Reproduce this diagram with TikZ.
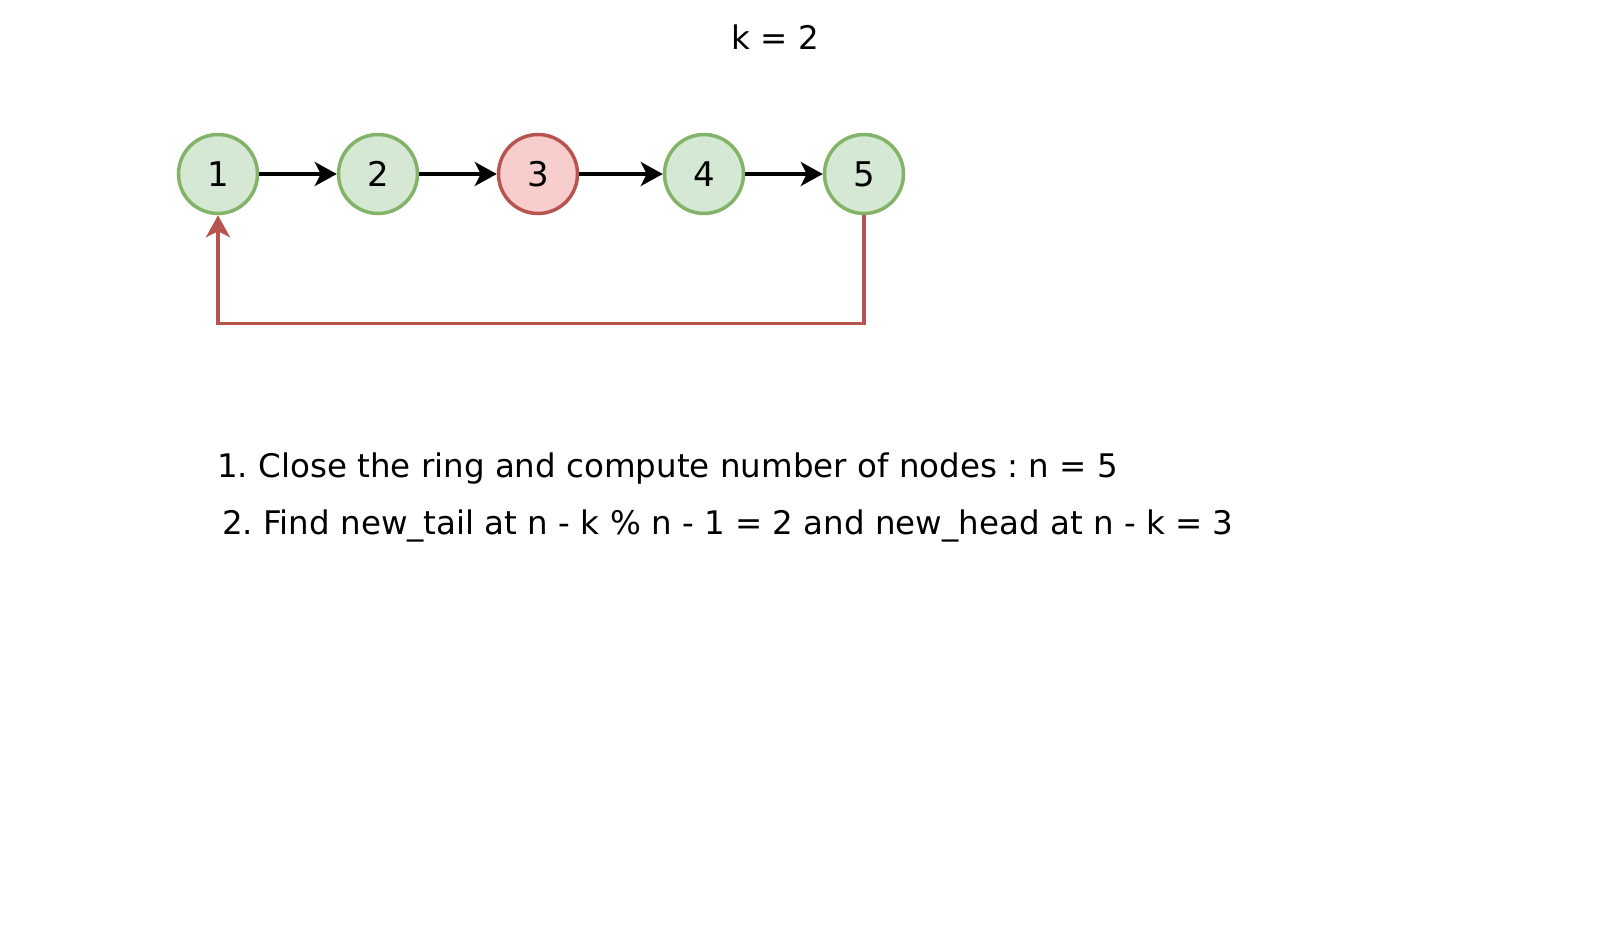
\documentclass[tikz,border=0pt]{standalone}
\usepackage{fontspec}
\setmainfont{DejaVu Sans}
\usetikzlibrary{arrows.meta}
\definecolor{gfill}{HTML}{D5E8D4}
\definecolor{gline}{HTML}{82B366}
\definecolor{rfill}{HTML}{F8CECC}
\definecolor{rline}{HTML}{B85450}
\tikzset{
  lnode/.style={circle, line width=3.5pt, minimum size=79pt, inner sep=0pt, font=\fontsize{34}{40}\selectfont},
  gnode/.style={lnode, draw=gline, fill=gfill},
  rnode/.style={lnode, draw=rline, fill=rfill},
  link/.style={line width=3.5pt, -{Stealth[length=22pt,width=24pt,inset=6pt]}},
  backlink/.style={link, draw=rline},
  txt/.style={font=\fontsize{32.5}{38}\selectfont, inner sep=0pt}
}
\begin{document}
\frenchspacing
\begin{tikzpicture}[x=1pt,y=-1pt]
\useasboundingbox[fill=white] (0,0) rectangle (1616,942);
\node[txt, anchor=base] (k) at (775,49) {k = 2};
\node[gnode] (n1) at (218,174) {1};
\node[gnode] (n2) at (378,174) {2};
\node[rnode] (n3) at (538,174) {3};
\node[gnode] (n4) at (704,174) {4};
\node[gnode] (n5) at (864,174) {5};
\draw[link] (n1) -- (n2);
\draw[link] (n2) -- (n3);
\draw[link] (n3) -- (n4);
\draw[link] (n4) -- (n5);
\draw[backlink] (n5.south) -- ++(0,108) -| (n1.south);
\node[txt, anchor=base west] (s1) at (217,477) {1. Close the ring and compute number of nodes : n = 5};
\node[txt, anchor=base west] (s2) at (222,534) {2. Find new\_tail at n - k \% n - 1 = 2 and new\_head at n - k = 3};
\end{tikzpicture}
\end{document}
